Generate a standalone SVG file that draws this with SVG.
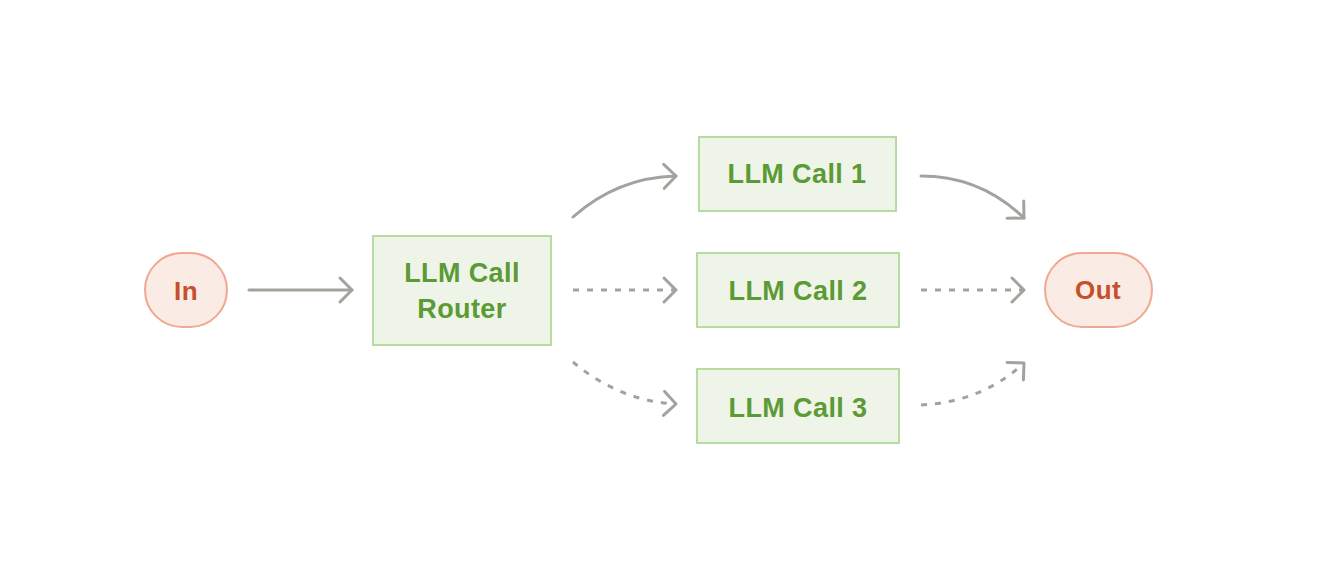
<svg xmlns="http://www.w3.org/2000/svg" width="1327" height="563" viewBox="0 0 1327 563">
<style>
.box{fill:#eef4e8;stroke:#b6dca0;stroke-width:2}
.term{fill:#fbebe5;stroke:#f0a991;stroke-width:2}
.bt{font-family:"Liberation Sans",Arial,sans-serif;font-weight:bold;font-size:27px;fill:#5b9a34;text-anchor:middle;letter-spacing:0.4px}
.tt{font-family:"Liberation Sans",Arial,sans-serif;font-weight:bold;font-size:26px;fill:#c5502c;text-anchor:middle;letter-spacing:0.4px}
.c{fill:none;stroke:#a3a39e;stroke-width:3;stroke-linecap:round;marker-end:url(#ah)}
.d{stroke-dasharray:6 8;stroke-linecap:butt}
</style>
<defs>
<marker id="ah" markerUnits="userSpaceOnUse" markerWidth="30" markerHeight="30" viewBox="-15 -15 30 30" refX="0" refY="0" orient="auto" overflow="visible">
<path d="M-12,-12 L0,0 L-12,12" fill="none" stroke="#a3a39e" stroke-width="3" stroke-linecap="round" stroke-linejoin="round"/>
</marker>
</defs>
<rect width="1327" height="563" fill="#ffffff"/>
<g id="connectors">
<path class="c" d="M249,290 L352,290"/>
<path class="c" d="M573,217 C600,193 635,177 676,176"/>
<path class="c d" d="M573,290 L676,290"/>
<path class="c d" d="M573,362 C600,385 635,402 676,404"/>
<path class="c" d="M921,176 C960,176 995,190 1024,218"/>
<path class="c d" d="M921,290 L1024,290"/>
<path class="c d" d="M921,405 C960,403 995,390 1024,363"/>
</g>
<g id="in">
<rect class="term" x="145" y="253" width="82" height="74" rx="37" ry="37"/>
<text class="tt" x="186" y="300">In</text>
</g>
<g id="router">
<rect class="box" x="373" y="236" width="178" height="109"/>
<text class="bt" x="462" y="282">LLM Call</text>
<text class="bt" x="462" y="318">Router</text>
</g>
<g id="call1">
<rect class="box" x="699" y="137" width="197" height="74"/>
<text class="bt" x="797" y="183">LLM Call 1</text>
</g>
<g id="call2">
<rect class="box" x="697" y="253" width="202" height="74"/>
<text class="bt" x="798" y="300">LLM Call 2</text>
</g>
<g id="call3">
<rect class="box" x="697" y="369" width="202" height="74"/>
<text class="bt" x="798" y="417">LLM Call 3</text>
</g>
<g id="out">
<rect class="term" x="1045" y="253" width="107" height="74" rx="37" ry="37"/>
<text class="tt" x="1098" y="299">Out</text>
</g>
</svg>
